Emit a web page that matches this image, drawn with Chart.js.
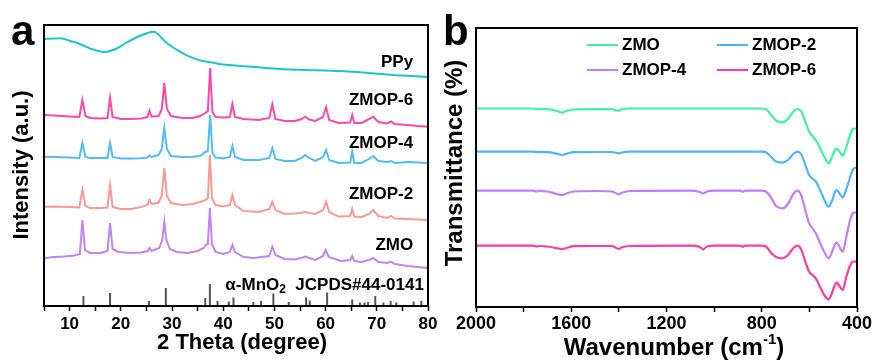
<!DOCTYPE html>
<html><head><meta charset="utf-8">
<script src="https://cdn.jsdelivr.net/npm/chart.js@4.4.1/dist/chart.umd.min.js"></script>
<style>
html,body{margin:0;padding:0;background:#fff;width:874px;height:360px;overflow:hidden}
canvas{position:absolute;left:0;top:0}
</style></head>
<body>
<canvas id="ca" width="874" height="360"></canvas>
<canvas id="cb" width="874" height="360"></canvas>
<script>
// ---------- Panel a : XRD (2θ in degree, intensity a.u. with offsets) ----------
const ppyXRD = [[5,267],[7,267.5],[8.5,267.5],[10,265.3],[12,262],[14,257.5],[16,254.5],[17.3,254.3],[19,257],[21,263],[23,268.5],[25,272.5],[26.3,274.3],[27,273],[28,268],[29,263],[31,256],[33,250.3],[35.5,245.5],[38,243.3],[40,241.5],[43.3,240],[46,239],[51,237],[56,236],[61,235.3],[66,234],[71,232],[75,230.5],[80,229]];
const zmop6XRD = [[5,191],[7,190.5],[10,189.5],[11.9,189],[12.5,206],[13.1,190],[14,188],[16,187.5],[17.4,188],[17.9,208.3],[18.4,189],[20,187],[22,187],[24,187.5],[25.2,189],[25.6,195.3],[26.0,189.5],[27.4,190],[28.0,197],[28.5,223],[29.0,197],[29.8,190],[32,188],[34,188],[35.5,190],[36.5,193],[37.0,195],[37.45,238],[37.9,194],[38.5,189],[40,188.5],[41.3,189],[41.8,202],[42.3,189],[44,187],[47,186],[49.0,188],[49.6,201.7],[50.2,187],[52,185],[54,185],[55.3,187],[56.0,189.3],[56.8,186.5],[58,185],[59.5,189],[60.1,198.7],[60.7,186],[62.5,183],[64.8,183.5],[65.2,191],[65.6,183],[67,183],[68.5,187],[69.3,189.3],[70.3,184],[72,182.5],[72.8,184.5],[73.5,182],[76,181],[78,180],[80,179.3]];
const zmop4XRD = [[5,149.3],[7,149],[10,148.5],[11.9,148],[12.5,163],[13.1,149],[14,148],[16,148],[17.4,148],[17.9,163],[18.4,149],[20,147.5],[22,147.5],[24,147.7],[25.2,148.5],[25.6,150.5],[26.0,149],[27.4,151],[28.0,157],[28.5,178],[29.0,157],[29.8,150],[32,149],[34,149.3],[35.5,150],[36.5,154],[37.0,155],[37.45,191],[37.9,153],[38.5,148.5],[40,147.5],[41.3,149],[41.8,160],[42.3,149],[44,146],[47,146],[49.0,148],[49.6,158],[50.2,147],[52,145],[54,145],[55.3,148],[56.0,151],[56.8,148],[58,145],[59.5,149],[60.1,156],[60.7,146],[62.5,143],[64.8,143.5],[65.2,154.3],[65.6,143],[67,143],[68.5,147],[69.3,150],[70.3,145],[72,144],[72.8,145],[73.5,143],[76,144],[78,143.5],[80,143]];
const zmop2XRD = [[5,99.3],[7,99.5],[10,99],[11.9,98.5],[12.5,116],[13.1,100],[14,98],[16,98],[17.4,98.5],[17.9,121],[18.4,99],[20,97],[22,97],[24,99],[25.2,101],[25.6,106],[26.0,102],[27.3,103],[28.0,110],[28.5,138],[29.0,110],[29.8,103],[32,101],[34,102],[35.5,104],[36.6,106],[37.0,108],[37.4,151],[37.8,108],[38.5,101],[40,99.5],[41.3,101],[41.8,111],[42.3,101],[44,95],[47,94],[49.0,97],[49.6,104.3],[50.2,96],[52,92],[54,92.5],[55.2,93],[56.0,94.3],[56.8,93],[58,92],[59.5,96],[60.1,104.3],[60.7,94],[62.5,89.5],[64.8,90],[65.2,97],[65.6,89.5],[67,89],[68.5,92],[69.3,96],[70.3,90],[72,88],[72.8,90],[73.5,87.5],[76,87],[78,86.5],[80,86]];
const zmoXRD = [[5,47.7],[7,49],[9,49.5],[11,50.5],[12.0,52],[12.5,86],[13.0,56],[14,53],[16,53],[17.4,55],[17.9,83],[18.4,57],[19.5,54],[22,53],[24,53.5],[25.2,55],[25.6,58],[26.0,55],[27.5,58],[28.1,66],[28.5,84],[28.9,66],[29.6,57],[31,54],[33,53],[35,55],[36.2,58],[36.6,61],[37.0,62],[37.4,98],[37.8,62],[38.5,54],[40,52],[41.3,54],[41.8,61],[42.3,54],[44,49],[46,48],[47.5,49],[49.0,50],[49.6,59],[50.2,51],[52,47],[54,46.5],[55.5,48.5],[56.0,49.5],[56.8,48],[58,46],[59.5,50],[60.0,56],[60.6,49],[63,45],[64.8,46],[65.2,50],[65.6,45],[67,44],[68.5,46],[69.3,48],[70.3,44],[72,43],[72.8,44.3],[73.5,42],[76,40],[78,39],[80,38]];
// α-MnO2 JCPDS#44-0141 reference lines
const refPos = [12.7,17.9,25.5,28.8,36.5,37.4,38.9,41.1,42.0,45.9,47.4,49.8,52.8,56.2,56.9,60.3,65.2,66.7,67.6,68.3,69.7,71.3,72.7,73.8,77.2,78.7];
const refInt = [10,13,5,18,8,22,5,4.5,8.5,4,5,12.5,4,8.5,5.5,13.5,6.5,3.5,3.5,4,10,3.5,5,3.5,4.5,5];
const xrdNames = ['PPy','ZMOP-6','ZMOP-4','ZMOP-2','ZMO'];
const xrdTicks = [10,20,30,40,50,60,70,80];

// ---------- Panel b : FTIR (wavenumber cm-1, transmittance with offsets) ----------
const zmoIR = [[2000,198.5],[1800,198.5],[1760,198.5],[1740,197.8],[1700,197.8],[1660,196],[1639,194.3],[1620,196],[1590,197.5],[1500,197.8],[1430,197.8],[1410,196.5],[1400,196.3],[1390,197.5],[1350,198.5],[800,198.5],[783,198],[760,192],[740,186.5],[713,184.7],[690,188],[665,196],[650,198],[635,196],[615,184],[601,175.3],[585,170.5],[573,167],[555,159],[535,149],[519,143.7],[505,150],[492,157.5],[485,158.3],[475,156],[460,151.3],[445,160],[430,171],[418,177.7],[410,178.5],[400,178]];
const zmop2IR = [[2000,155.3],[1800,155.3],[1760,155.3],[1740,154.8],[1700,154.8],[1660,153.3],[1639,152],[1620,153.3],[1590,154.8],[1500,155],[1430,155],[1410,154],[1400,153.7],[1390,154.5],[1350,155.3],[800,155.3],[783,154.8],[760,150],[740,145.5],[713,144.3],[690,147],[665,153.5],[650,155.3],[635,153],[615,141],[601,132],[585,128],[573,125.3],[555,117],[535,106],[519,100.3],[505,106],[492,115.5],[485,117],[475,114],[460,109.7],[445,118],[430,129],[418,137],[410,139],[400,139.3]];
const zmop4IR = [[2000,116.3],[1800,116.3],[1760,116.3],[1745,115.5],[1735,116.3],[1720,115.8],[1700,115.5],[1660,113],[1639,112],[1620,113.5],[1590,115.5],[1500,116],[1430,115.5],[1410,113.5],[1400,112.7],[1390,114],[1350,116],[1100,116.3],[1060,115],[1045,113.5],[1030,115.5],[1000,116.3],[890,116.3],[880,115.3],[870,116.3],[800,116.3],[783,115.5],[760,109],[740,101],[713,98.7],[690,103],[665,114],[650,116.3],[635,112],[615,95],[601,83.7],[585,78],[573,73.7],[555,64],[535,54],[519,48.7],[505,55],[492,63],[485,64.3],[475,61],[460,55.3],[445,70],[430,86],[418,93.7],[410,94.5],[400,94.7]];
const zmop6IR = [[2000,61.3],[1800,61.3],[1760,61.3],[1745,60.5],[1735,61],[1700,60.5],[1660,58.8],[1639,58],[1620,59],[1590,60.8],[1500,61],[1430,61],[1410,59],[1400,58],[1390,59.5],[1350,61],[1100,61.3],[1060,60],[1045,57.7],[1030,60.5],[1000,61.3],[890,61.3],[880,60.3],[870,61.3],[800,61.3],[783,60.5],[760,54],[740,50],[713,48.7],[690,52],[665,59.5],[650,61.3],[635,58],[615,44],[601,35.3],[585,31.5],[573,28.7],[555,20],[535,11],[519,7.7],[505,14],[492,22.5],[485,24.3],[475,21.5],[460,17],[445,30],[430,41],[418,45.3],[410,45.5],[400,45.3]];
const irNames = ['ZMO','ZMOP-2','ZMOP-4','ZMOP-6'];
const irTicks = [2000,1600,1200,800,400];

// ---------- helpers ----------
const FONT = '"Liberation Sans", Arial, Helvetica, sans-serif';
Chart.defaults.font.family = FONT;
Chart.defaults.color = '#000';
const toXY = a => a.map(p => ({x:p[0], y:p[1]}));

function drawRich(ctx, parts, x, y, align, rot){
  ctx.save();
  ctx.translate(x, y);
  if (rot) ctx.rotate(rot);
  let w = 0;
  parts.forEach(p => { ctx.font = 'bold ' + p.size + 'px ' + FONT; p.w = ctx.measureText(p.t).width; w += p.w; });
  let cx = align === 'right' ? -w : align === 'center' ? -w/2 : 0;
  ctx.textBaseline = 'middle'; ctx.textAlign = 'left'; ctx.fillStyle = '#000';
  parts.forEach(p => { ctx.font = 'bold ' + p.size + 'px ' + FONT; ctx.fillText(p.t, cx, p.dy || 0); cx += p.w; });
  ctx.restore();
}
function frame(chart){
  const a = chart.chartArea, ctx = chart.ctx;
  ctx.save(); ctx.strokeStyle = '#000'; ctx.lineWidth = 2;
  ctx.strokeRect(a.left, a.top, a.right - a.left, a.bottom - a.top);
  ctx.restore();
}

// ---------- Panel a ----------
const stickData = [];
refPos.forEach((p, i) => { stickData.push({x:p, y:0}, {x:p, y:refInt[i]}, {x:p, y:null}); });
const xrdColors = ['#1cc6c6', '#ff4aa5', '#55bbf7', '#f99a92', '#c283f3'];
const xrdSeries = [ppyXRD, zmop6XRD, zmop4XRD, zmop2XRD, zmoXRD];
const labelPosA = [[77.1,244],[77.1,206],[77.1,163],[77.1,112],[77.1,61]];

const pluginA = {
  id: 'decorA',
  afterDraw(chart){
    const ctx = chart.ctx, xs = chart.scales.x, ys = chart.scales.y;
    frame(chart);
    xrdNames.forEach((n, i) => {
      drawRich(ctx, [{t:n, size:17}], xs.getPixelForValue(labelPosA[i][0]), ys.getPixelForValue(labelPosA[i][1]), 'right');
    });
    drawRich(ctx, [{t:'α-MnO', size:17}, {t:'2', size:12, dy:5}, {t:'  JCPDS#44-0141', size:17}],
      xs.getPixelForValue(79.2), ys.getPixelForValue(21), 'right');
    drawRich(ctx, [{t:'2 Theta (degree)', size:22}], 242, 343, 'center');
    drawRich(ctx, [{t:'Intensity (a.u.)', size:22}], 22, 165, 'center', -Math.PI/2);
    ctx.save(); ctx.font = 'bold 42px ' + FONT; ctx.fillStyle = '#000'; ctx.textBaseline = 'alphabetic';
    ctx.fillText('a', 11, 45); ctx.restore();
  }
};

new Chart(document.getElementById('ca'), {
  type: 'line',
  data: {
    datasets: xrdSeries.map((s, i) => ({
      label: xrdNames[i], data: toXY(s), borderColor: xrdColors[i], borderWidth: 2,
      tension: i === 0 ? 0.4 : 0, pointRadius: 0, fill: false
    })).concat([{ label: 'ref', data: stickData, borderColor: '#555', borderWidth: 2, pointRadius: 0, spanGaps: false, tension: 0, borderCapStyle: 'butt' }])
  },
  options: {
    responsive: false, animation: false,
    layout: { padding: { left: 0, top: 25, right: 446, bottom: 0 } },
    plugins: { legend: { display: false }, tooltip: { enabled: false } },
    scales: {
      x: {
        type: 'linear', min: 5, max: 80,
        ticks: { stepSize: 5, autoSkip: false, maxRotation: 0, padding: 3,
          font: { size: 17, weight: 'bold' }, color: '#000',
          callback: v => xrdTicks.includes(v) ? String(v) : '' },
        grid: { drawOnChartArea: false, drawTicks: true, tickLength: 5, tickWidth: 1.5, tickColor: '#000' },
        border: { display: false },
        afterFit: s => { s.height = 54; }
      },
      y: {
        min: 0, max: 281,
        ticks: { display: false }, grid: { display: false }, border: { display: false },
        afterFit: s => { s.width = 44; }
      }
    }
  },
  plugins: [pluginA]
});

// ---------- Panel b ----------
const irColors = ['#3ef2a4', '#4db6fb', '#c47cfb', '#ff3d9e'];
const irSeries = [zmoIR, zmop2IR, zmop4IR, zmop6IR];

const pluginB = {
  id: 'decorB',
  afterDraw(chart){
    const ctx = chart.ctx, a = chart.chartArea;
    frame(chart);
    irNames.forEach((n, i) => {
      const col = i % 2, row = Math.floor(i / 2);
      const x0 = a.left + 111 + col * 130, y = a.top + 17 + row * 25;
      ctx.save(); ctx.strokeStyle = irColors[i]; ctx.lineWidth = 2;
      ctx.beginPath(); ctx.moveTo(x0, y); ctx.lineTo(x0 + 31, y); ctx.stroke(); ctx.restore();
      drawRich(ctx, [{t:n, size:17}], x0 + 35, y, 'left');
    });
    drawRich(ctx, [{t:'Wavenumber (cm', size:24}, {t:'-1', size:15, dy:-8}, {t:')', size:24}], 674, 348, 'center');
    drawRich(ctx, [{t:'Transmittance (%)', size:24}], 455, 163, 'center', -Math.PI/2);
    ctx.save(); ctx.font = 'bold 42px ' + FONT; ctx.fillStyle = '#000'; ctx.textBaseline = 'alphabetic';
    ctx.fillText('b', 443, 45); ctx.restore();
  }
};

new Chart(document.getElementById('cb'), {
  type: 'line',
  data: {
    datasets: irSeries.map((s, i) => ({
      label: irNames[i], data: toXY(s), borderColor: irColors[i], borderWidth: 2.2,
      tension: 0.4, cubicInterpolationMode: 'monotone', pointRadius: 0, fill: false
    }))
  },
  options: {
    responsive: false, animation: false,
    layout: { padding: { left: 437, top: 28, right: 17, bottom: 0 } },
    plugins: { legend: { display: false }, tooltip: { enabled: false } },
    scales: {
      x: {
        type: 'linear', min: 400, max: 2000, reverse: true,
        ticks: { stepSize: 200, autoSkip: false, maxRotation: 0, padding: 1,
          font: { size: 18, weight: 'bold' }, color: '#000',
          callback: v => irTicks.includes(v) ? String(v) : '' },
        grid: { drawOnChartArea: false, drawTicks: true, tickLength: 5, tickWidth: 1.5, tickColor: '#000' },
        border: { display: false },
        afterFit: s => { s.height = 53; }
      },
      y: {
        min: 0, max: 279,
        ticks: { display: false }, grid: { display: false }, border: { display: false },
        afterFit: s => { s.width = 39; }
      }
    }
  },
  plugins: [pluginB]
});
</script>
</body></html>
